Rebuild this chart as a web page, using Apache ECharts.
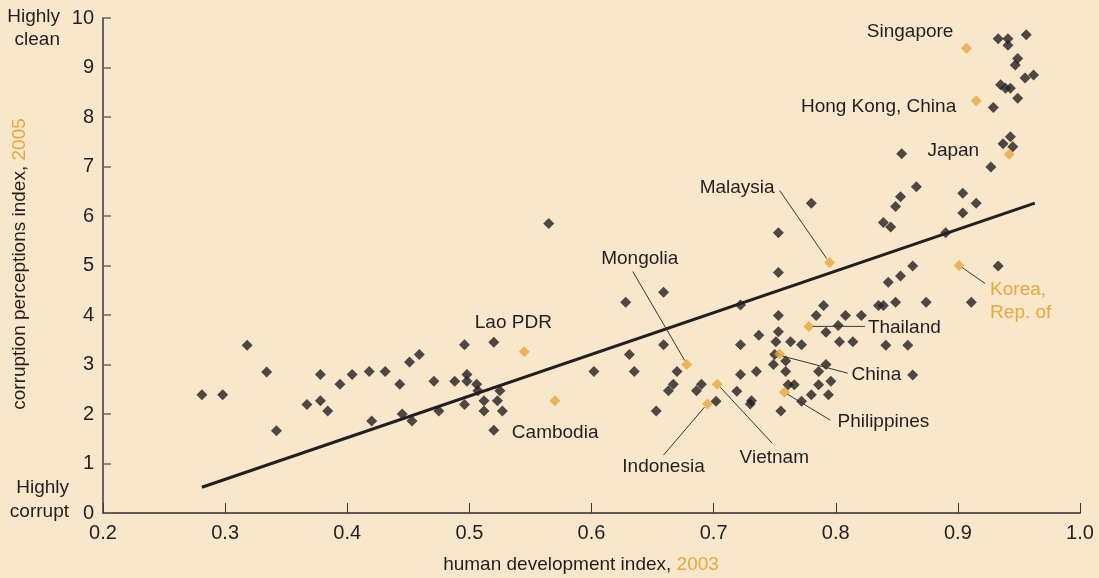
<!DOCTYPE html>
<html>
<head>
<meta charset="utf-8">
<script src="https://cdn.jsdelivr.net/npm/echarts/dist/echarts.min.js"></script>
<style>
html, body { margin: 0; padding: 0; background: #F8E7CA; }
#chart { width: 1099px; height: 578px; }
</style>
</head>
<body>
<div id="chart"></div>
<script>
// other countries: [human development index 2003, corruption perceptions index 2005]
var otherCountries = [
    [0.281,2.39],[0.298,2.39],[0.318,3.39],[0.334,2.85],[0.342,1.66],[0.367,2.19],[0.378,2.80],[0.378,2.27],
    [0.384,2.06],[0.394,2.60],[0.404,2.80],[0.418,2.86],[0.431,2.86],[0.420,1.86],[0.443,2.60],[0.451,3.05],
    [0.459,3.20],[0.445,2.00],[0.453,1.86],[0.471,2.66],[0.475,2.06],[0.496,3.40],[0.520,3.45],[0.488,2.66],
    [0.498,2.80],[0.498,2.66],[0.506,2.60],[0.507,2.47],[0.496,2.19],[0.512,2.27],[0.512,2.06],[0.525,2.47],
    [0.523,2.27],[0.527,2.06],[0.520,1.67],[0.565,5.85],[0.602,2.86],[0.631,3.20],[0.635,2.86],[0.659,4.46],
    [0.628,4.26],[0.659,3.40],[0.670,2.86],[0.667,2.60],[0.663,2.47],[0.653,2.06],[0.690,2.60],[0.686,2.47],
    [0.702,2.26],[0.722,4.20],[0.722,3.40],[0.722,2.80],[0.719,2.46],[0.735,2.86],[0.730,2.20],[0.731,2.27],
    [0.737,3.59],[0.753,3.99],[0.753,3.66],[0.751,3.46],[0.763,3.46],[0.772,3.40],[0.750,3.20],[0.749,3.00],
    [0.759,3.07],[0.759,2.86],[0.761,2.59],[0.766,2.59],[0.772,2.26],[0.755,2.06],[0.780,2.39],[0.786,2.59],
    [0.786,2.86],[0.792,3.00],[0.796,2.66],[0.794,2.39],[0.784,3.99],[0.790,4.19],[0.792,3.65],[0.802,3.79],
    [0.808,3.99],[0.821,3.99],[0.803,3.46],[0.814,3.46],[0.753,4.86],[0.753,5.66],[0.780,6.26],[0.863,4.99],
    [0.853,4.79],[0.843,4.66],[0.835,4.19],[0.839,4.19],[0.849,4.26],[0.874,4.26],[0.911,4.26],[0.933,4.99],
    [0.841,3.39],[0.859,3.39],[0.863,2.79],[0.854,7.26],[0.866,6.59],[0.853,6.39],[0.849,6.19],[0.839,5.87],
    [0.845,5.78],[0.904,6.46],[0.915,6.26],[0.904,6.06],[0.890,5.66],[0.927,6.99],[0.943,7.60],[0.937,7.46],
    [0.945,7.40],[0.929,8.19],[0.949,8.38],[0.935,8.65],[0.939,8.58],[0.943,8.58],[0.955,8.79],[0.962,8.85],
    [0.949,9.18],[0.947,9.05],[0.933,9.58],[0.941,9.58],[0.941,9.45],[0.956,9.66]
];

// East Asian countries, highlighted in orange
var namedCountries = ['Singapore', 'Hong Kong, China', 'Japan', 'Malaysia', 'Mongolia', 'Lao PDR', 'Cambodia',
                      'Thailand', 'China', 'Philippines', 'Indonesia', 'Vietnam', 'Korea, Rep. of'];
var namedHdi = [0.907, 0.915, 0.942, 0.795, 0.678, 0.545, 0.570, 0.778, 0.754, 0.758, 0.695, 0.703, 0.901];
var namedCpi = [9.39, 8.33, 7.25, 5.06, 3.00, 3.26, 2.27, 3.77, 3.21, 2.44, 2.20, 2.60, 5.00];

// fitted line
var fitHdi = [0.281, 0.963];
var fitCpi = [0.52, 6.26];

var xMin = 0.2, xMax = 1.0, xStep = 0.1;
var yMin = 0, yMax = 10, yStep = 1;

var orange = '#E9A83B';
var ink = '#231F20';
var font = '"Liberation Sans", Arial, sans-serif';
var narrow = '"Liberation Sans Narrow", "Liberation Sans", Arial, sans-serif';

// label placement, pixel offsets from each highlighted point
var labelLayout = [
    {dx: -13, dy: -16, align: 'right'},
    {dx: -20, dy: 6, align: 'right'},
    {dx: -30, dy: -3, align: 'right'},
    {dx: -55, dy: -75, align: 'right', line: [-3, -4, -50, -72]},
    {dx: -47, dy: -106, align: 'center', line: [-2, -4, -54, -93]},
    {dx: -11, dy: -29, align: 'center'},
    {dx: -43, dy: 32, align: 'left'},
    {dx: 59, dy: 1, align: 'left', line: [4, 0, 56, 0]},
    {dx: 72, dy: 21, align: 'left', line: [3, 2, 68, 19]},
    {dx: 53, dy: 30, align: 'left', line: [3, 2, 46, 28]},
    {dx: -44, dy: 63, align: 'center', line: [-3, 3, -44, 51]},
    {dx: 57, dy: 73, align: 'center', line: [3, 3, 55, 59]},
    {dx: 31, dy: 36, align: 'left', line: [3, 2, 26, 18], orange: true, text: 'Korea,\nRep. of'}
];

var chart = echarts.init(document.getElementById('chart'), null, {renderer: 'canvas'});

var namedData = namedHdi.map(function (h, i) { return {name: namedCountries[i], value: [h, namedCpi[i]]}; });
var fitData = fitHdi.map(function (h, i) { return [h, fitCpi[i]]; });

chart.setOption({
    backgroundColor: '#F8E7CA',
    animation: false,
    grid: {left: 103, right: 19, top: 18, bottom: 65},
    xAxis: {
        type: 'value',
        min: xMin, max: xMax, interval: xStep,
        axisLine: {show: true, lineStyle: {color: '#5f5a52', width: 2}},
        axisTick: {show: true, inside: true, length: 10, lineStyle: {color: '#3a3633', width: 1}},
        splitLine: {show: false},
        axisLabel: {
            color: ink, fontFamily: narrow, fontSize: 20, margin: 10,
            formatter: function (v) { return v.toFixed(1); }
        }
    },
    yAxis: {
        type: 'value',
        min: yMin, max: yMax, interval: yStep,
        axisLine: {show: true, lineStyle: {color: '#3a3633', width: 1.5}},
        axisTick: {show: true, inside: true, length: 8, lineStyle: {color: '#6a655d', width: 1.5}},
        splitLine: {show: false},
        axisLabel: {color: ink, fontFamily: narrow, fontSize: 20, margin: 9}
    },
    series: [
        {
            type: 'line',
            data: fitData,
            symbol: 'none',
            lineStyle: {color: ink, width: 3},
            z: 2
        },
        {
            type: 'scatter',
            data: otherCountries,
            symbol: 'diamond',
            symbolSize: 11,
            itemStyle: {color: ink},
            z: 3
        },
        {
            type: 'scatter',
            data: namedData,
            symbol: 'diamond',
            symbolSize: 11,
            itemStyle: {color: orange},
            z: 4
        }
    ]
});

var graphics = [];
namedData.forEach(function (d, i) {
    var p = chart.convertToPixel({gridIndex: 0}, d.value);
    var lay = labelLayout[i];
    graphics.push({
        type: 'text',
        x: p[0] + lay.dx,
        y: p[1] + lay.dy,
        z: 10,
        style: {
            text: lay.text || d.name,
            fill: lay.orange ? orange : ink,
            font: '19px ' + font,
            align: lay.align,
            verticalAlign: 'middle',
            lineHeight: 23
        }
    });
    if (lay.line) {
        graphics.push({
            type: 'line',
            z: 9,
            shape: {x1: p[0] + lay.line[0], y1: p[1] + lay.line[1], x2: p[0] + lay.line[2], y2: p[1] + lay.line[3]},
            style: {stroke: '#3a3633', lineWidth: 1}
        });
    }
});

// scale end notes
graphics.push({
    type: 'text', x: 60, y: 28, z: 10,
    style: {text: 'Highly\nclean', fill: ink, font: '19px ' + font, align: 'right', verticalAlign: 'middle', lineHeight: 23}
});
graphics.push({
    type: 'text', x: 69, y: 500, z: 10,
    style: {text: 'Highly\ncorrupt', fill: ink, font: '19px ' + font, align: 'right', verticalAlign: 'middle', lineHeight: 24}
});

// axis titles
graphics.push({
    type: 'text', x: 581, y: 565, z: 10,
    style: {
        text: '{a|human development index, }{b|2003}',
        align: 'center', verticalAlign: 'middle',
        rich: {
            a: {fill: ink, font: '19px ' + font},
            b: {fill: orange, font: '19px ' + font}
        }
    }
});
graphics.push({
    type: 'text', x: 20, y: 264, z: 10, rotation: Math.PI / 2,
    style: {
        text: '{a|corruption perceptions index, }{b|2005}',
        align: 'center', verticalAlign: 'middle',
        rich: {
            a: {fill: ink, font: '19px ' + font},
            b: {fill: orange, font: '19px ' + font}
        }
    }
});

chart.setOption({graphic: graphics});
</script>
</body>
</html>
